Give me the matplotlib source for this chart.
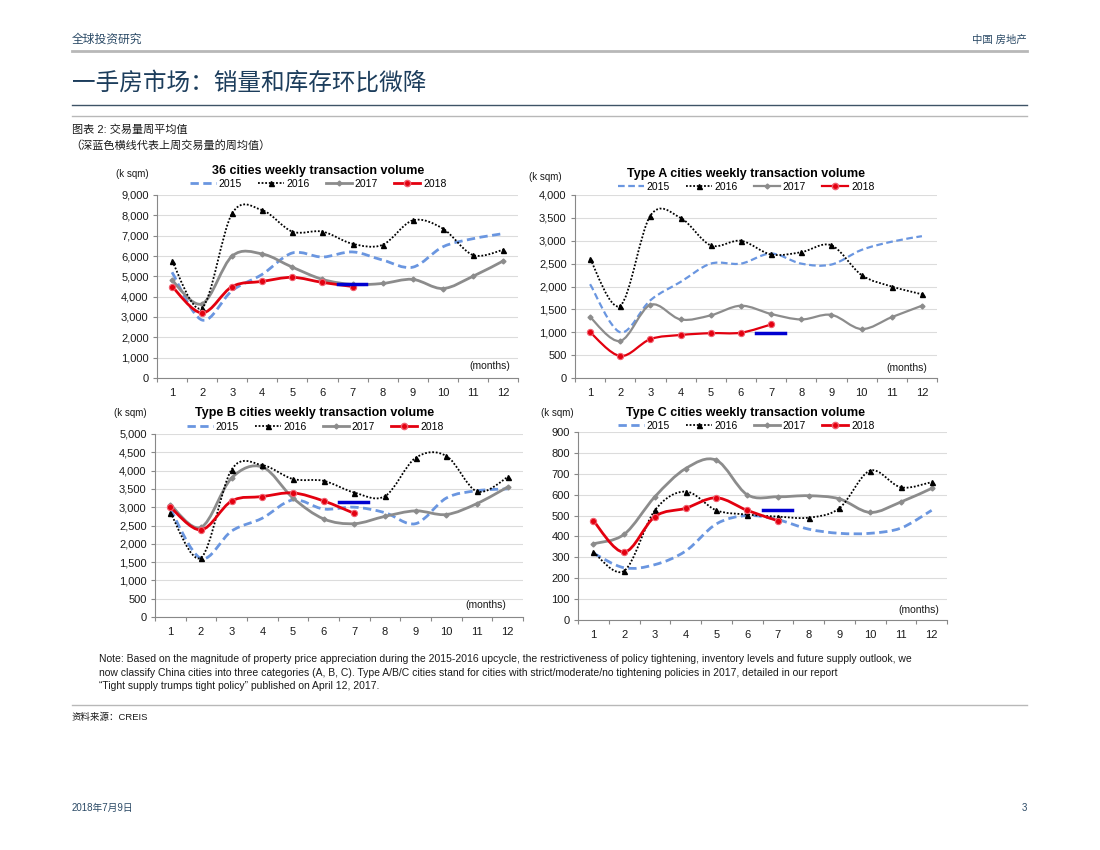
import matplotlib.pyplot as plt
import numpy as np
from matplotlib.lines import Line2D
from matplotlib.patches import PathPatch
from matplotlib.path import Path

plt.rcParams['font.family'] = ['Liberation Sans', 'Noto Sans CJK SC', 'DejaVu Sans']

W, H = 1100, 850

months = list(range(1, 13))
month_labels = [str(m) for m in months]
years = ['2015', '2016', '2017', '2018']

# 36 cities
all_2015 = [5200, 2850, 4300, 5100, 6150, 5950, 6200, 5800, 5450, 6450, 6850, 7100]
all_2016 = [5750, 3450, 8100, 8250, 7200, 7200, 6600, 6550, 7750, 7350, 6050, 6300]
all_2017 = [4800, 3650, 6000, 6100, 5450, 4850, 4600, 4650, 4850, 4400, 5000, 5750]
all_2018 = [4500, 3200, 4500, 4750, 4950, 4700, 4500]
all_lastweek = 4600

# Type A
a_2015 = [2050, 1000, 1700, 2100, 2500, 2500, 2720, 2500, 2480, 2800, 2980, 3100]
a_2016 = [2600, 1580, 3550, 3500, 2900, 3000, 2700, 2750, 2900, 2250, 2000, 1830]
a_2017 = [1330, 810, 1600, 1280, 1370, 1580, 1400, 1280, 1380, 1070, 1330, 1580]
a_2018 = [1000, 480, 850, 940, 980, 990, 1170]
a_lastweek = 990

# Type B
b_2015 = [2950, 1600, 2350, 2700, 3200, 2950, 3000, 2850, 2550, 3250, 3450, 3500]
b_2016 = [2850, 1620, 4030, 4150, 3770, 3720, 3400, 3300, 4350, 4400, 3430, 3820]
b_2017 = [3070, 2450, 3800, 4100, 3250, 2680, 2550, 2750, 2900, 2800, 3100, 3550]
b_2018 = [3000, 2380, 3170, 3290, 3390, 3170, 2830]
b_lastweek = 3150

# Type C
c_2015 = [320, 250, 265, 330, 460, 500, 480, 435, 415, 415, 440, 525]
c_2016 = [325, 235, 525, 615, 525, 505, 495, 490, 535, 715, 635, 660]
c_2017 = [365, 410, 590, 725, 765, 600, 590, 595, 580, 515, 565, 630]
c_2018 = [475, 325, 495, 535, 585, 525, 475]
c_lastweek = 525

BLUE15 = '#6a96e0'
GRAY17 = '#8c8c8c'
RED18 = '#e3000f'
LASTWK = '#0000d0'
TXT = '#1a1a1a'


def fx(x):
    return x / W


def fy(y):
    return 1 - y / H


def smooth(ax, xs, ys, **kw):
    # Excel-style smoothed line: cubic Bezier through every point
    p = np.column_stack([xs, ys]).astype(float)
    ext = np.vstack([p[0], p, p[-1]])
    verts = [tuple(p[0])]
    codes = [Path.MOVETO]
    for i in range(len(p) - 1):
        p0, p1, p2, p3 = ext[i], ext[i + 1], ext[i + 2], ext[i + 3]
        c1 = p1 + (p2 - p0) / 6.0
        c2 = p2 - (p3 - p1) / 6.0
        verts += [tuple(c1), tuple(c2), tuple(p2)]
        codes += [Path.CURVE4] * 3
    ax.add_patch(PathPatch(Path(verts, codes), fill=False, capstyle='butt', **kw))


def panel(box, title, title_xy, ylab_xy, months_xy, ymax, ystep, series, lastweek, lw=2.0, legend_y=None):
    l, t, r, b = box
    ax = fig.add_axes([fx(l), fy(b), fx(r - l), (b - t) / H])
    s15, s16, s17, s18 = series
    x = np.array(months)
    smooth(ax, x, s15, edgecolor=BLUE15, linewidth=lw, linestyle=(0, (3, 1.6)), zorder=3)
    smooth(ax, x, s16, edgecolor='black', linewidth=1.3, linestyle=(0, (1, 1)), zorder=4)
    ax.plot(x, s16, linestyle='none', marker='^', ms=3.6, color='black', zorder=4)
    smooth(ax, x, s17, edgecolor=GRAY17, linewidth=lw, zorder=3)
    ax.plot(x, s17, linestyle='none', marker='D', ms=2.5, color=GRAY17, zorder=3)
    x18 = x[:len(s18)]
    smooth(ax, x18, s18, edgecolor=RED18, linewidth=lw, zorder=5)
    ax.plot(x18, s18, linestyle='none', marker='o', ms=4.5, color=RED18,
            markeredgecolor='#f06070', markeredgewidth=0.8, zorder=5)
    ax.plot([6.5, 7.45], [lastweek, lastweek], color=LASTWK, linewidth=2.5, zorder=6)

    ax.set_xlim(0.5, 12.5)
    ax.set_ylim(0, ymax)
    ax.set_xticks(months)
    ax.set_xticklabels(month_labels)
    ax.set_xticks(np.arange(0.5, 13, 1), minor=True)
    ax.set_yticks(np.arange(0, ymax + 1, ystep))
    ax.set_yticklabels([f'{v:,}' for v in range(0, ymax + 1, ystep)])
    ax.tick_params(axis='x', which='major', length=0, pad=7, labelsize=8, labelcolor=TXT)
    ax.tick_params(axis='x', which='minor', length=3, color='#888888', width=0.8)
    ax.tick_params(axis='y', length=3, color='#888888', width=0.8, pad=3, labelsize=8, labelcolor=TXT)
    ax.grid(axis='y', color='#dcdcdc', linewidth=0.8)
    ax.set_axisbelow(True)
    for s in ['top', 'right']:
        ax.spines[s].set_visible(False)
    for s in ['left', 'bottom']:
        ax.spines[s].set_color('#888888')
        ax.spines[s].set_linewidth(0.8)

    fig.text(fx(title_xy[0]), fy(title_xy[1]), title, ha='center', va='center',
             fontsize=9, fontweight='bold', color='black')
    fig.text(fx(ylab_xy[0]), fy(ylab_xy[1]), '(k sqm)', ha='center', va='center', fontsize=7, color=TXT)
    fig.text(fx(months_xy[0]), fy(months_xy[1]), '(months)', ha='right', va='center', fontsize=7.5, color=TXT)

    handles = [
        Line2D([], [], color=BLUE15, lw=lw, linestyle=(0, (3, 1.6))),
        Line2D([], [], color='black', lw=1.3, linestyle=(0, (1, 1)), marker='^', ms=3.6),
        Line2D([], [], color=GRAY17, lw=lw, marker='D', ms=2.5),
        Line2D([], [], color=RED18, lw=lw, marker='o', ms=4.5, markeredgecolor='#f06070'),
    ]
    ax.legend(handles, years, loc='center', ncol=4, frameon=False, fontsize=7.5,
              bbox_to_anchor=(fx(title_xy[0]), fy(legend_y)), bbox_transform=fig.transFigure,
              handlelength=2.5, columnspacing=1.5, handletextpad=0.3, borderpad=0)
    return ax


fig = plt.figure(figsize=(11, 8.5), dpi=100)

panel((157, 195, 518, 378), '36 cities weekly transaction volume', (318, 171), (132, 174), (510, 366),
      9000, 1000, (all_2015, all_2016, all_2017, all_2018), all_lastweek, lw=2.0, legend_y=184)
panel((575, 195, 937, 378), 'Type A cities weekly transaction volume', (746, 174), (545, 177), (927, 368),
      4000, 500, (a_2015, a_2016, a_2017, a_2018), a_lastweek, lw=1.6, legend_y=187)
panel((155, 434, 523, 617), 'Type B cities weekly transaction volume', (315, 413), (130, 413), (506, 605),
      5000, 500, (b_2015, b_2016, b_2017, b_2018), b_lastweek, lw=2.0, legend_y=427)
panel((578, 432, 947, 620), 'Type C cities weekly transaction volume', (746, 413), (557, 413), (939, 610),
      900, 100, (c_2015, c_2016, c_2017, c_2018), c_lastweek, lw=2.0, legend_y=426)

# page decoration
HEAD = '#2b4a66'
fig.text(fx(72), fy(40), '全球投资研究', ha='left', va='center', fontsize=8.5, color=HEAD)
fig.text(fx(1027), fy(40), '中国 房地产', ha='right', va='center', fontsize=7.5, color=HEAD)
fig.add_artist(Line2D([fx(72), fx(1027)], [fy(51), fy(51)], color='#b8b8b8', lw=2))
fig.text(fx(72), fy(83), '一手房市场：销量和库存环比微降', ha='left', va='center', fontsize=17, color='#1c3d5c')
fig.add_artist(Line2D([fx(72), fx(1027)], [fy(105), fy(105)], color='#3e5366', lw=1))
fig.add_artist(Line2D([fx(72), fx(1027)], [fy(116), fy(116)], color='#b8b8b8', lw=1))
fig.text(fx(72), fy(130), '图表 2: 交易量周平均值', ha='left', va='center', fontsize=8, color=TXT)
fig.text(fx(70), fy(145), '（深蓝色横线代表上周交易量的周均值）', ha='left', va='center', fontsize=8, color=TXT)

note = [
    'Note: Based on the magnitude of property price appreciation during the 2015-2016 upcycle, the restrictiveness '
    'of policy tightening, inventory levels and future supply outlook, we',
    'now classify China cities into three categories (A, B, C). Type A/B/C cities stand for cities with '
    'strict/moderate/no tightening policies in 2017, detailed in our report',
    '\u201cTight supply trumps tight policy\u201d published on April 12, 2017.',
]
for i, line in enumerate(note):
    fig.text(fx(99), fy(659 + 13.5 * i), line, ha='left', va='center', fontsize=7.5, color=TXT)

fig.add_artist(Line2D([fx(72), fx(1027)], [fy(705), fy(705)], color='#b8b8b8', lw=1))
fig.text(fx(72), fy(717), '资料来源：CREIS', ha='left', va='center', fontsize=6.8, color=TXT)
fig.text(fx(72), fy(808), '2018年7月9日', ha='left', va='center', fontsize=7, color=HEAD)
fig.text(fx(1027), fy(808), '3', ha='right', va='center', fontsize=7, color=HEAD)

fig.savefig('out.png', dpi=100, facecolor='white')
